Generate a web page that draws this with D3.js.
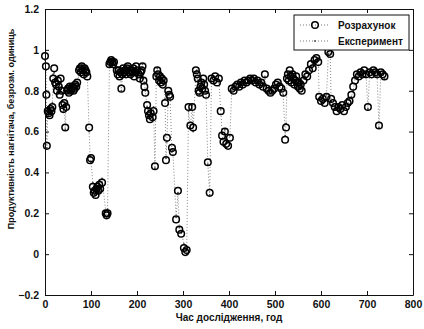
<!DOCTYPE html>
<html>
<head>
<meta charset="utf-8">
<script src="https://cdn.jsdelivr.net/npm/d3@7"></script>
<style>
  body { margin: 0; background: #fff; }
  svg { font-family: "Liberation Sans", Arial, sans-serif; }
  .axis text { font-size: 10.5px; fill: #111; font-weight: bold; }
  .axis path, .axis line { stroke: #111; }
</style>
</head>
<body>
<div id="chart"></div>
<script>
// час, год
var hours = [0,2,3,4,6,8,10,12,14,16,18,20,22,24,26,28,30,32,34,36,38,40,42,44,46,48,50,52,54,56,58,60,62,64,66,68,70,
  74,76,78,80,82,84,86,88,90,92,96,98,100,104,106,108,110,112,114,116,118,120,124,132,134,136,
  140,142,144,146,148,150,156,158,160,162,164,166,168,170,172,174,176,178,180,182,184,186,188,190,192,194,196,198,200,
  204,206,208,210,212,214,216,218,222,224,226,228,230,234,236,239,242,244,246,248,250,252,254,256,258,261,263,265,
  268,270,272,276,278,285,289,292,296,302,305,308,312,316,320,322,328,330,332,334,336,338,340,342,344,346,348,350,
  354,358,362,366,370,374,378,382,385,388,391,394,398,402,406,410,414,418,422,426,430,434,438,442,446,450,454,458,
  462,466,470,474,478,482,486,490,494,498,502,506,510,514,518,522,524,526,528,530,532,534,536,538,540,542,544,546,
  548,550,552,554,556,558,562,566,570,574,578,582,586,590,594,596,600,604,608,612,616,620,622,626,630,634,638,642,
  646,650,654,658,662,666,670,674,678,682,686,690,694,698,702,706,710,714,718,722,726,730,734,738];

// Розрахунок
var calcValues = [0.97,0.92,0.78,0.53,0.70,0.69,0.68,0.71,0.70,0.72,0.86,0.91,0.84,0.83,0.80,0.85,0.82,0.78,0.86,0.80,0.73,0.71,0.74,0.62,0.72,0.80,0.81,0.79,0.82,0.80,0.81,0.82,0.80,0.81,0.83,0.82,0.84,
  0.90,0.91,0.89,0.92,0.90,0.88,0.91,0.90,0.89,0.87,0.62,0.46,0.47,0.33,0.30,0.31,0.29,0.32,0.33,0.31,0.34,0.32,0.35,0.20,0.19,0.20,
  0.93,0.94,0.95,0.94,0.93,0.94,0.90,0.88,0.90,0.87,0.89,0.81,0.88,0.91,0.89,0.90,0.88,0.91,0.92,0.89,0.90,0.88,0.90,0.89,0.91,0.87,0.89,0.92,0.90,
  0.88,0.86,0.89,0.90,0.92,0.85,0.82,0.79,0.73,0.70,0.68,0.66,0.69,0.67,0.70,0.43,0.87,0.90,0.88,0.85,0.87,0.84,0.86,0.83,0.85,0.74,0.46,0.57,
  0.80,0.78,0.77,0.52,0.50,0.17,0.31,0.12,0.10,0.03,0.01,0.02,0.72,0.63,0.72,0.62,0.90,0.88,0.86,0.80,0.79,0.82,0.84,0.81,0.86,0.83,0.80,0.78,
  0.45,0.30,0.86,0.85,0.87,0.84,0.86,0.70,0.58,0.55,0.60,0.54,0.53,0.57,0.81,0.80,0.82,0.83,0.82,0.84,0.83,0.85,0.84,0.85,0.86,0.85,0.86,0.84,
  0.85,0.83,0.84,0.82,0.88,0.81,0.80,0.79,0.80,0.81,0.83,0.84,0.82,0.81,0.79,0.56,0.62,0.86,0.88,0.85,0.90,0.87,0.84,0.88,0.86,0.83,0.85,0.87,
  0.84,0.82,0.84,0.81,0.83,0.80,0.85,0.88,0.87,0.90,0.93,0.91,0.95,0.96,0.94,0.77,0.75,0.76,0.74,0.77,0.99,0.98,0.76,0.74,0.72,0.70,0.72,0.71,
  0.73,0.70,0.72,0.74,0.75,0.78,0.82,0.85,0.88,0.87,0.89,0.88,0.90,0.88,0.72,0.89,0.88,0.90,0.89,0.88,0.63,0.89,0.88,0.87];

// Експеримент
var expValues = [0.95,0.90,0.80,0.52,0.72,0.68,0.70,0.70,0.69,0.74,0.88,0.89,0.86,0.82,0.78,0.87,0.80,0.79,0.84,0.82,0.75,0.70,0.72,0.61,0.74,0.79,0.82,0.80,0.81,0.79,0.83,0.80,0.81,0.82,0.81,0.84,0.83,
  0.88,0.92,0.90,0.93,0.89,0.90,0.90,0.91,0.87,0.88,0.60,0.48,0.45,0.35,0.31,0.29,0.30,0.33,0.31,0.32,0.36,0.30,0.37,0.21,0.18,0.22,
  0.92,0.95,0.94,0.96,0.94,0.93,0.91,0.89,0.88,0.89,0.90,0.80,0.86,0.90,0.91,0.88,0.89,0.92,0.90,0.91,0.88,0.89,0.92,0.90,0.89,0.88,0.90,0.91,0.89,
  0.90,0.87,0.88,0.91,0.93,0.86,0.84,0.80,0.72,0.71,0.67,0.68,0.70,0.66,0.72,0.42,0.86,0.91,0.87,0.86,0.88,0.85,0.84,0.85,0.83,0.76,0.47,0.55,
  0.78,0.79,0.76,0.50,0.51,0.18,0.30,0.13,0.11,0.05,0.02,0.00,0.70,0.62,0.73,0.60,0.89,0.90,0.85,0.82,0.78,0.81,0.85,0.83,0.84,0.82,0.81,0.79,
  0.44,0.29,0.85,0.87,0.86,0.85,0.85,0.71,0.59,0.53,0.61,0.52,0.55,0.58,0.80,0.82,0.81,0.82,0.84,0.83,0.85,0.84,0.86,0.84,0.85,0.87,0.85,0.86,
  0.84,0.82,0.85,0.83,0.87,0.80,0.81,0.80,0.79,0.82,0.82,0.83,0.84,0.80,0.78,0.58,0.64,0.84,0.89,0.86,0.88,0.86,0.85,0.87,0.88,0.84,0.83,0.86,
  0.85,0.81,0.83,0.82,0.84,0.81,0.86,0.87,0.89,0.88,0.92,0.93,0.94,0.95,0.96,0.76,0.76,0.74,0.75,0.78,0.98,1.00,0.75,0.73,0.71,0.72,0.70,0.73,
  0.72,0.71,0.74,0.73,0.76,0.77,0.80,0.86,0.87,0.89,0.88,0.90,0.89,0.87,0.71,0.90,0.89,0.88,0.90,0.87,0.62,0.88,0.89,0.86];

var xTicks = [0, 100, 200, 300, 400, 500, 600, 700, 800];
var yTicks = [-0.2, 0, 0.2, 0.4, 0.6, 0.8, 1, 1.2];
var seriesNames = ["Розрахунок", "Експеримент"];

var W = 424, H = 329;
var margin = { top: 9, right: 11, bottom: 34, left: 45 };

var svg = d3.select("#chart").append("svg")
    .attr("width", W)
    .attr("height", H);

var x = d3.scaleLinear().domain([0, 800]).range([margin.left, W - margin.right]);
var y = d3.scaleLinear().domain([-0.2, 1.2]).range([H - margin.bottom, margin.top]);

var calc = hours.map(function (t, i) { return { t: t, v: calcValues[i] }; });
var exper = hours.map(function (t, i) { return { t: t, v: expValues[i] }; });

var line = d3.line()
    .x(function (d) { return x(d.t); })
    .y(function (d) { return y(d.v); });

// experiment: dotted line with small dots
svg.append("path")
    .datum(exper)
    .attr("fill", "none")
    .attr("stroke", "#777")
    .attr("stroke-width", 0.9)
    .attr("stroke-dasharray", "1,2")
    .attr("d", line);

svg.append("g").selectAll("circle")
    .data(exper)
    .join("circle")
    .attr("cx", function (d) { return x(d.t); })
    .attr("cy", function (d) { return y(d.v); })
    .attr("r", 1)
    .attr("fill", "#555");

// calculation: open circles
svg.append("g").selectAll("circle")
    .data(calc)
    .join("circle")
    .attr("cx", function (d) { return x(d.t); })
    .attr("cy", function (d) { return y(d.v); })
    .attr("r", 3.3)
    .attr("fill", "none")
    .attr("stroke", "#000")
    .attr("stroke-width", 1.5);

// axes, matlab style ticks inside
svg.append("g")
    .attr("class", "axis")
    .attr("transform", "translate(0," + y(-0.2) + ")")
    .call(d3.axisBottom(x).tickValues(xTicks).tickSizeInner(-4).tickSizeOuter(0).tickPadding(6));

svg.append("g")
    .attr("class", "axis")
    .attr("transform", "translate(0," + y(1.2) + ")")
    .call(d3.axisTop(x).tickValues(xTicks).tickSizeInner(-4).tickSizeOuter(0).tickFormat(""));

svg.append("g")
    .attr("class", "axis")
    .attr("transform", "translate(" + x(0) + ",0)")
    .call(d3.axisLeft(y).tickValues(yTicks).tickSizeInner(-4).tickSizeOuter(0).tickPadding(6)
        .tickFormat(function (d) { return d3.format("~g")(d); }));

svg.append("g")
    .attr("class", "axis")
    .attr("transform", "translate(" + x(800) + ",0)")
    .call(d3.axisRight(y).tickValues(yTicks).tickSizeInner(-4).tickSizeOuter(0).tickFormat(""));

// axis titles
svg.append("text")
    .attr("x", (x(0) + x(800)) / 2)
    .attr("y", 321)
    .attr("text-anchor", "middle")
    .style("font-size", "10px")
    .style("font-weight", "bold")
    .attr("fill", "#111")
    .text("Час дослідження, год");

svg.append("text")
    .attr("transform", "translate(14," + 129 + ") rotate(-90)")
    .attr("text-anchor", "middle")
    .style("font-size", "9px")
    .style("font-weight", "bold")
    .attr("fill", "#111")
    .text("Продуктивність нагнітача, безрозм. одиниць");

// legend
var lg = svg.append("g").attr("transform", "translate(294,15)");
lg.append("rect")
    .attr("width", 115).attr("height", 35)
    .attr("fill", "#fff").attr("stroke", "#111").attr("stroke-width", 1);

lg.append("line")
    .attr("x1", 6).attr("x2", 36).attr("y1", 10).attr("y2", 10)
    .attr("stroke", "#777").attr("stroke-dasharray", "1,2");
lg.append("circle")
    .attr("cx", 21).attr("cy", 10).attr("r", 3.3)
    .attr("fill", "none").attr("stroke", "#000").attr("stroke-width", 1.5);
lg.append("line")
    .attr("x1", 6).attr("x2", 36).attr("y1", 26).attr("y2", 26)
    .attr("stroke", "#777").attr("stroke-dasharray", "1,2");
lg.append("circle")
    .attr("cx", 21).attr("cy", 26).attr("r", 1).attr("fill", "#555");

lg.selectAll("text.lab")
    .data(seriesNames)
    .join("text")
    .attr("class", "lab")
    .attr("x", 44)
    .attr("y", function (d, i) { return 13.5 + i * 16; })
    .style("font-size", "10px")
    .style("font-weight", "bold")
    .attr("fill", "#111")
    .text(function (d) { return d; });
</script>
</body>
</html>
